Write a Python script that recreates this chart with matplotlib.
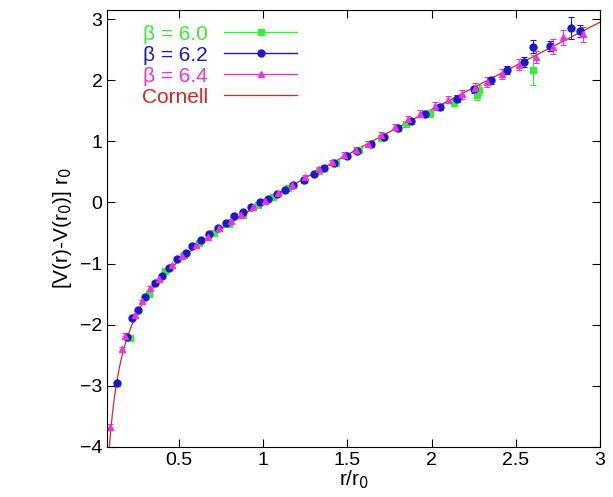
import numpy as np
import matplotlib.pyplot as plt
from matplotlib.lines import Line2D

plt.rcParams['font.family'] = ['Liberation Sans', 'DejaVu Sans']

# beta = 6.0
x60 = [0.21, 0.32, 0.42, 0.53, 0.62, 0.71, 0.80, 0.88, 0.97, 1.06, 1.15, 1.24, 1.33, 1.43, 1.57, 1.70, 1.85, 1.99, 2.13, 2.27, 2.28, 2.60]
y60 = [-2.22, -1.50, -1.12, -0.86, -0.66, -0.50, -0.35, -0.21, -0.05, 0.09, 0.23, 0.37, 0.51, 0.65, 0.85, 1.06, 1.28, 1.46, 1.63, 1.76, 1.84, 2.17]
e60 = [0.05, 0.04, 0.03, 0.03, 0.03, 0.03, 0.03, 0.03, 0.03, 0.03, 0.03, 0.03, 0.04, 0.04, 0.04, 0.05, 0.05, 0.06, 0.06, 0.08, 0.08, 0.25]

# beta = 6.2
x62 = [0.13, 0.19, 0.22, 0.26, 0.30, 0.36, 0.40, 0.44, 0.49, 0.54, 0.58, 0.63, 0.68, 0.73, 0.78, 0.83, 0.88, 0.93, 0.98, 1.03, 1.08, 1.13, 1.18, 1.24,
       1.30, 1.36, 1.42, 1.50, 1.56, 1.64, 1.72, 1.80, 1.88, 1.96, 2.05, 2.15, 2.25, 2.35, 2.45, 2.55, 2.60, 2.70, 2.83, 2.88]
y62 = [-2.96, -2.20, -1.90, -1.76, -1.55, -1.32, -1.20, -1.07, -0.93, -0.82, -0.72, -0.62, -0.52, -0.42, -0.34, -0.23, -0.16, -0.07, 0.00, 0.06, 0.13, 0.21,
       0.28, 0.37, 0.46, 0.56, 0.64, 0.76, 0.84, 0.95, 1.07, 1.21, 1.33, 1.44, 1.56, 1.70, 1.85, 2.00, 2.17, 2.30, 2.55, 2.56, 2.85, 2.80]
e62 = [0.04, 0.03, 0.03, 0.03, 0.03, 0.03, 0.02, 0.02, 0.02, 0.02, 0.02, 0.02, 0.02, 0.02, 0.02, 0.02, 0.02, 0.02, 0.02, 0.02, 0.02, 0.02,
       0.03, 0.03, 0.03, 0.03, 0.03, 0.03, 0.03, 0.04, 0.04, 0.04, 0.04, 0.05, 0.05, 0.05, 0.06, 0.06, 0.07, 0.08, 0.10, 0.08, 0.18, 0.10]

# beta = 6.4
x64 = [0.09, 0.16, 0.18, 0.24, 0.28, 0.33, 0.38, 0.46, 0.52, 0.60, 0.67, 0.74, 0.81, 0.87, 0.94, 1.01, 1.09, 1.17, 1.25, 1.33, 1.41, 1.48, 1.55,
       1.62, 1.70, 1.78, 1.86, 1.93, 2.02, 2.10, 2.18, 2.26, 2.33, 2.42, 2.52, 2.62, 2.72, 2.78, 2.90]
y64 = [-3.68, -2.40, -2.18, -1.85, -1.62, -1.40, -1.26, -1.03, -0.88, -0.70, -0.56, -0.42, -0.30, -0.20, -0.08, 0.03, 0.16, 0.29, 0.41, 0.54,
       0.66, 0.78, 0.86, 0.96, 1.10, 1.24, 1.37, 1.45, 1.58, 1.68, 1.77, 1.88, 1.97, 2.10, 2.25, 2.38, 2.55, 2.70, 2.75]
e64 = [0.05, 0.04, 0.04, 0.03, 0.03, 0.03, 0.03, 0.03, 0.03, 0.03, 0.03, 0.03, 0.03, 0.03, 0.03, 0.03, 0.03, 0.03, 0.04, 0.04, 0.04, 0.04, 0.04,
       0.04, 0.05, 0.05, 0.05, 0.06, 0.06, 0.06, 0.07, 0.07, 0.08, 0.08, 0.09, 0.10, 0.12, 0.12, 0.12]

# Cornell fit parameters
e_coul = np.pi / 12
sigma_r0sq = 1.65 - e_coul

c60, c62, c64, ccor = '#33ee33', '#1a1acc', '#ee33dd', '#dd2222'

fig = plt.figure(figsize=(6.13, 4.97), dpi=100)
ax = fig.add_axes([0.175, 0.101, 0.804, 0.879])

xc = np.linspace(0.075, 3.0, 400)
yc = sigma_r0sq * (xc - 1) - e_coul * (1 / xc - 1)

kw = dict(linestyle='none', capsize=2.5, elinewidth=0.8, capthick=0.8, markersize=5)
ax.errorbar(x60, y60, yerr=e60, marker='s', color=c60, **kw)
ax.errorbar(x62, y62, yerr=e62, marker='o', color=c62, **kw)
ax.errorbar(x64, y64, yerr=e64, marker='^', color=c64, **kw)
ax.plot(xc, yc, color=ccor, linewidth=0.9)

ax.set_xlim(0.075, 3.0)
ax.set_ylim(-4, 3.15)
ax.set_xticks([0.5, 1, 1.5, 2, 2.5, 3])
ax.set_xticklabels(['0.5', '1', '1.5', '2', '2.5', '3'])
ax.set_yticks(range(-4, 4))
ax.tick_params(direction='in', top=True, right=True, labelsize=14, length=6)
ax.set_xlabel('r/r$_0$', fontsize=15, labelpad=0)
ax.set_ylabel('[V(r)-V(r$_0$)] r$_0$', fontsize=15)

handles = [Line2D([], [], color=c60, marker='s', markersize=5, lw=1),
           Line2D([], [], color=c62, marker='o', markersize=5, lw=1),
           Line2D([], [], color=c64, marker='^', markersize=5, lw=1),
           Line2D([], [], color=ccor, lw=0.9)]
labels = ['β = 6.0', 'β = 6.2', 'β = 6.4', 'Cornell']
ax.legend(handles, labels, loc='upper left', frameon=False, markerfirst=False, fontsize=15,
          handlelength=3.5, labelcolor='linecolor', borderaxespad=0.3,
          handletextpad=0.8, labelspacing=0.1, bbox_to_anchor=(0.04, 1.0))

fig.savefig('out.png', dpi=100)
